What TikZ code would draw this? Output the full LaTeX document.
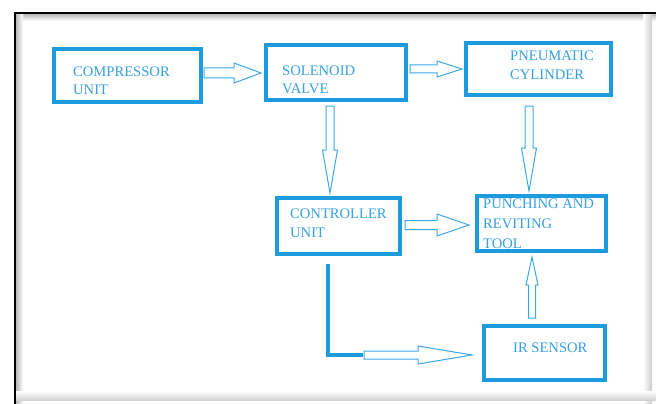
\documentclass[tikz,border=0pt]{standalone}
\usepackage{fontspec}
\setmainfont{Liberation Serif}
\usetikzlibrary{calc}
\definecolor{boxblue}{RGB}{30,155,220}
\definecolor{txtblue}{RGB}{55,160,225}
\definecolor{arrblue}{RGB}{60,170,232}
\tikzset{
  blk/.style={draw=boxblue, line width=4pt, inner sep=0pt, rectangle},
  lbl/.style={text=txtblue, font=\fontsize{14.6}{17}\selectfont, inner sep=0pt, anchor=base west},
  harrow/.style={draw=arrblue, line width=1pt, fill=white, line join=miter},
  feedline/.style={draw=boxblue, line width=4pt}
}
% #1 start, #2 tip, #3 shaft half width, #4 head half width, #5 head length, #6 name
\newcommand\hollowarrow[6]{%
  \coordinate (#6h) at ($(#2)!#5!(#1)$);
  \draw[harrow] ($(#1)!#3!90:(#2)$) -- ($(#6h)!#3!90:(#2)$) -- ($(#6h)!#4!90:(#2)$)
    -- (#2) -- ($(#6h)!#4!-90:(#2)$) -- ($(#6h)!#3!-90:(#2)$) -- ($(#1)!#3!-90:(#2)$) -- cycle;
}
\begin{document}
\begin{tikzpicture}[x=1pt,y=-1pt]
\useasboundingbox (0,0) rectangle (656,404);
\fill[white] (0,0) rectangle (656,404);
% frame with soft shadows
\fill[top color=gray!55, bottom color=white] (16,14) rectangle (656,21);
\fill[left color=gray!55, right color=white] (16,14) rectangle (23,404);
\fill[left color=white, right color=gray!40] (643,14) rectangle (652,404);
\fill[top color=white, bottom color=gray!35] (16,391) rectangle (656,400);
\draw[line width=2pt] (15,404) -- (15,13) -- (656,13);

% boxes
\node[blk, minimum width=147pt, minimum height=53pt] (comp)  at (127.5,75.5) {};
\node[blk, minimum width=140pt, minimum height=55pt] (sol)   at (336,72.5) {};
\node[blk, minimum width=145pt, minimum height=52pt] (pneu)  at (538.5,69) {};
\node[blk, minimum width=123pt, minimum height=56pt] (ctrl)  at (338.5,226) {};
\node[blk, minimum width=129pt, minimum height=55pt] (punch) at (541.5,223.5) {};
\node[blk, minimum width=121pt, minimum height=54pt] (ir)    at (544.5,353) {};

% labels
\node[lbl] (t1a) at (73,77) {COMPRESSOR};
\node[lbl] (t1b) at (73,95) {UNIT};
\node[lbl] (t2a) at (282,75) {SOLENOID};
\node[lbl] (t2b) at (282,93) {VALVE};
\node[lbl] (t3a) at (510,61) {PNEUMATIC};
\node[lbl] (t3b) at (510,80) {CYLINDER};
\node[lbl] (t4a) at (290,218) {CONTROLLER};
\node[lbl] (t4b) at (290,237) {UNIT};
\node[lbl] (t5a) at (483,208) {PUNCHING AND};
\node[lbl] (t5b) at (483,228) {REVITING};
\node[lbl] (t5c) at (483,248) {TOOL};
\node[lbl] (t6a) at (513,352) {IR SENSOR};

% connector end points
\coordinate (a1s) at ($(comp.east)+(1,-2.5)$);
\coordinate (a1e) at ($(sol.west)+(-3,0.5)$);
\coordinate (a2s) at ($(sol.east)+(2,-3.5)$);
\coordinate (a2e) at ($(pneu.west)+(-2,0)$);
\coordinate (a3s) at ($(sol.south)+(-6,4)$);
\coordinate (a3e) at ($(ctrl.north)+(-8.5,-3)$);
\coordinate (a4s) at ($(pneu.south)+(-9.5,9)$);
\coordinate (a4e) at ($(punch.north)+(-12.5,-3)$);
\coordinate (a5s) at ($(ctrl.east)+(3,-1)$);
\coordinate (a5e) at ($(punch.west)+(-6,1.5)$);
\coordinate (a6s) at ($(ir.north)+(-12.5,-6)$);
\coordinate (a6e) at ($(punch.south)+(-9.5,4)$);
\coordinate (c1) at ($(ctrl.south)+(-10.5,8)$);
\coordinate (a7e) at ($(ir.west)+(-10,2)$);
\coordinate (c2) at (c1 |- a7e);
\coordinate (a7s) at ($(c2)+(36,0)$);

% connectors
\hollowarrow{a1s}{a1e}{5pt}{10pt}{27pt}{h1}
\hollowarrow{a2s}{a2e}{4pt}{8pt}{25pt}{h2}
\hollowarrow{a3s}{a3e}{4pt}{7.5pt}{43pt}{h3}
\hollowarrow{a4s}{a4e}{4pt}{7.5pt}{43pt}{h4}
\hollowarrow{a5s}{a5e}{4.5pt}{11pt}{32pt}{h5}
\hollowarrow{a6s}{a6e}{3.5pt}{6pt}{28pt}{h6}
\draw[feedline] (c1) -- (c2) -- ($(a7s)+(-1,0)$);
\hollowarrow{a7s}{a7e}{4pt}{9pt}{54pt}{h7}
\end{tikzpicture}
\end{document}
